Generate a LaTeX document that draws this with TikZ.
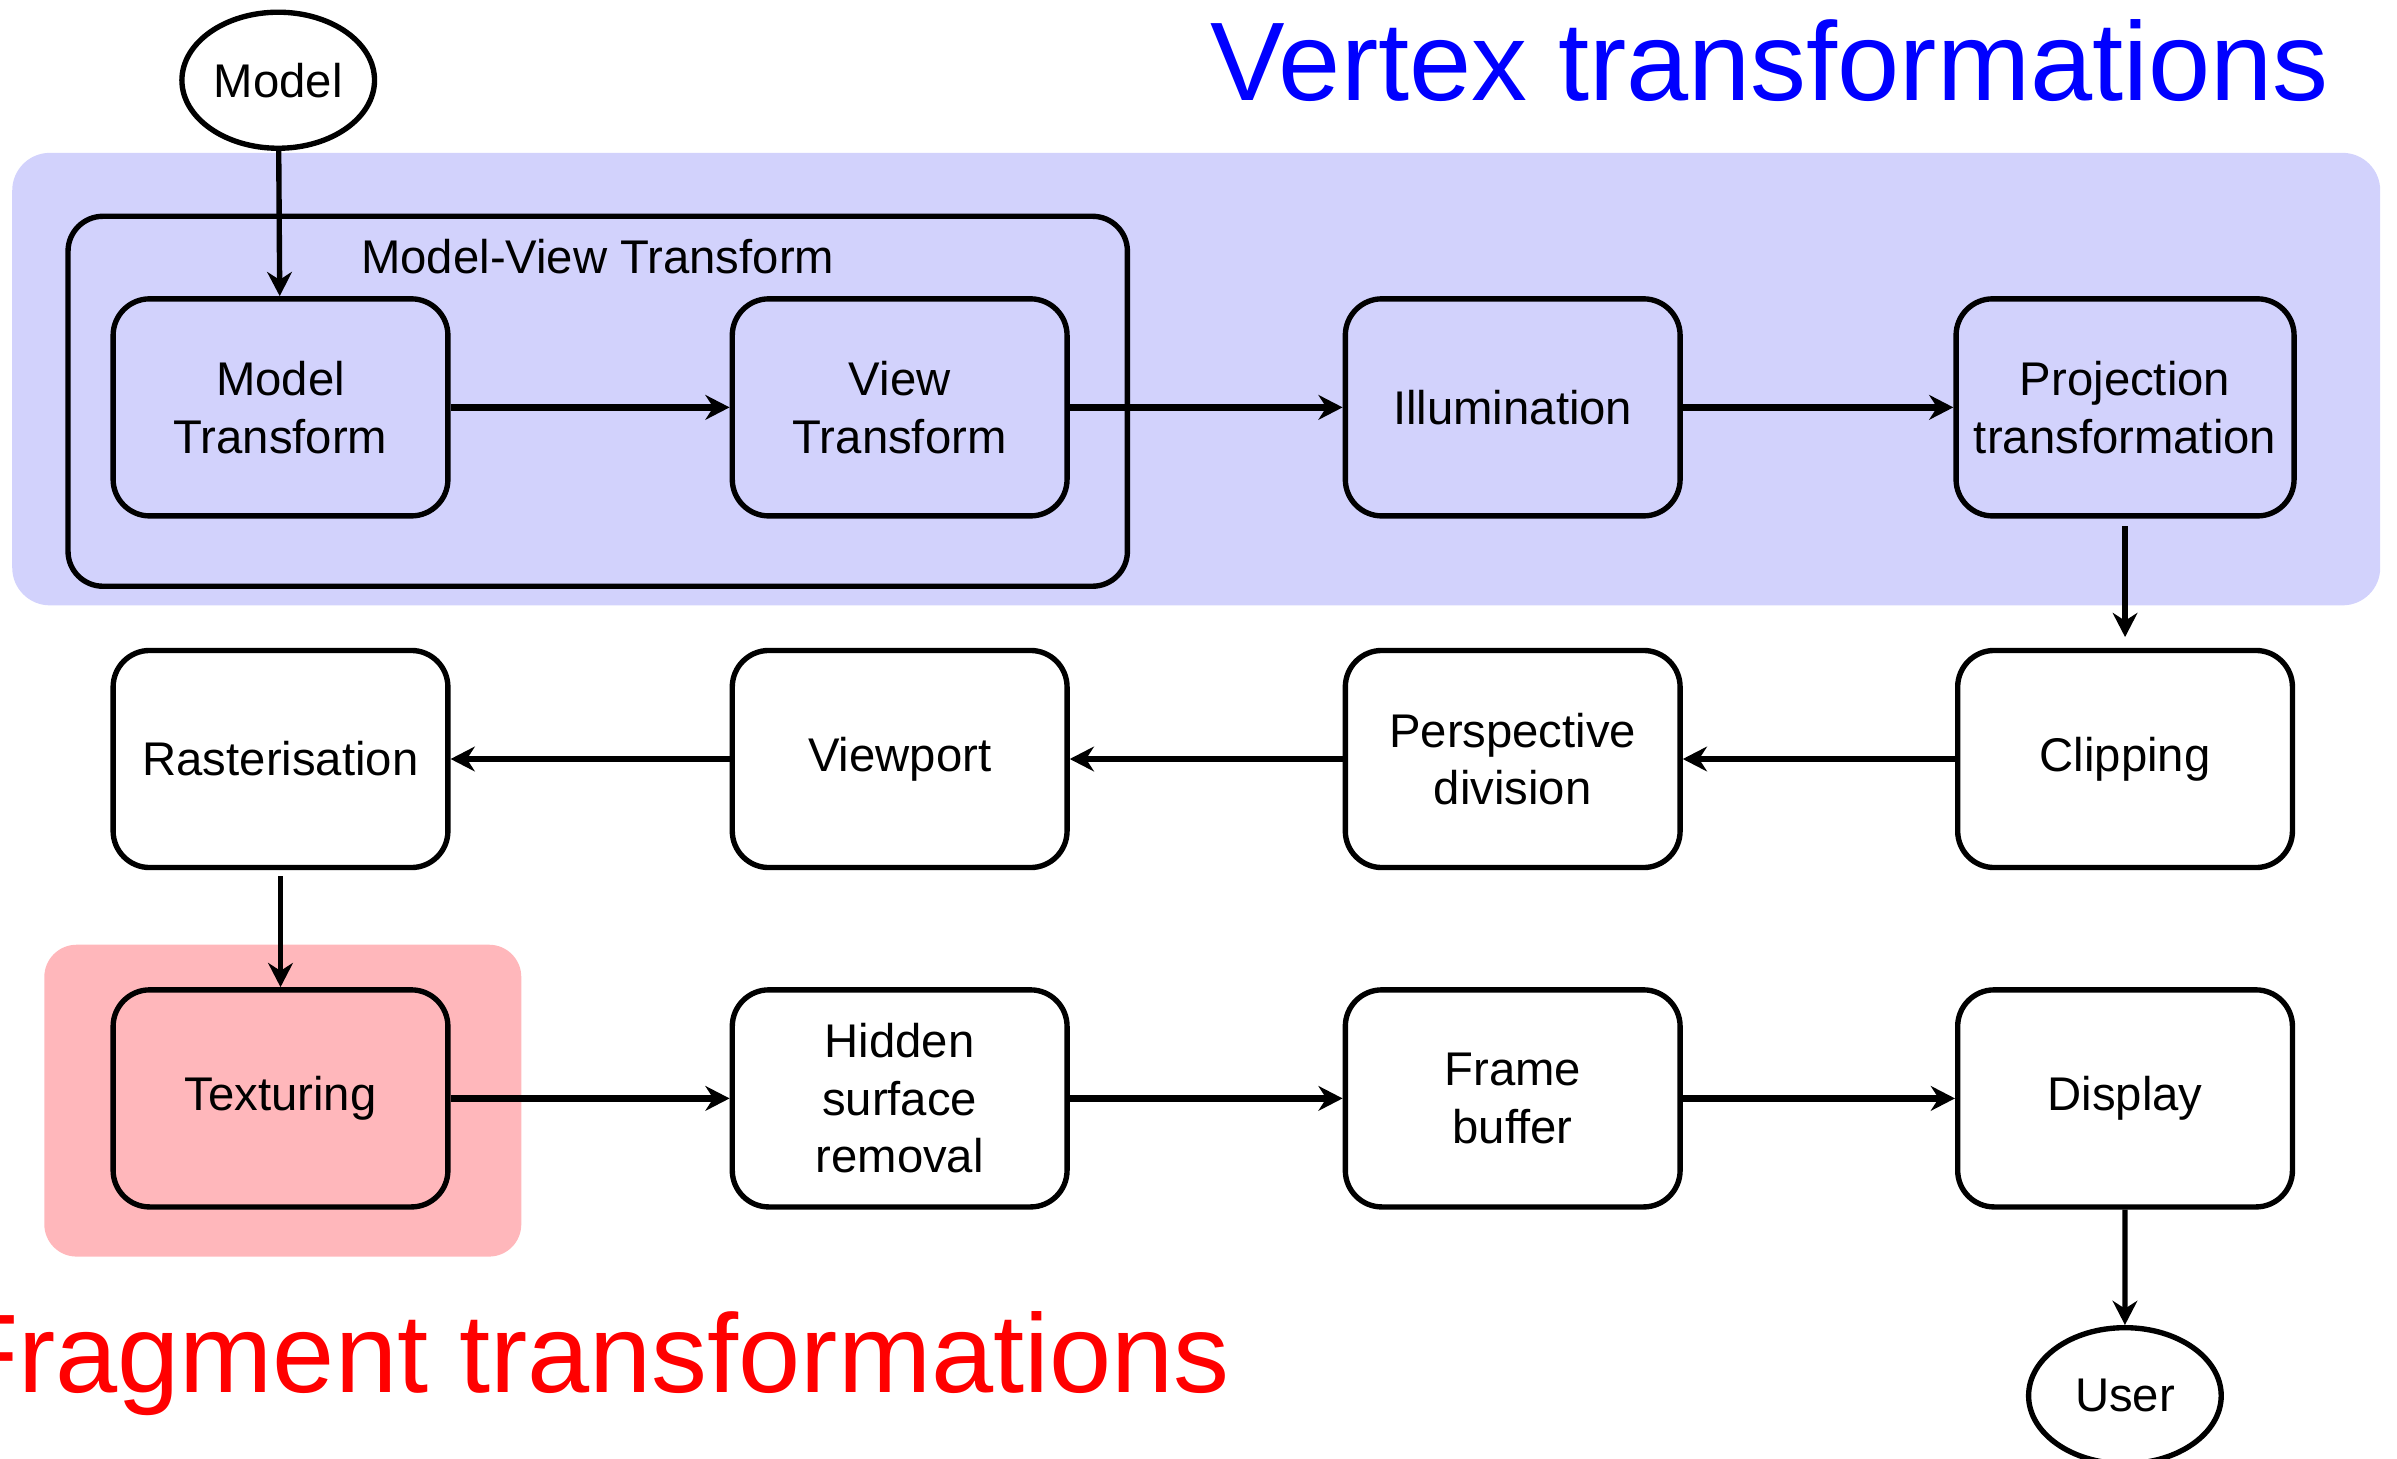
\documentclass[tikz,border=0pt]{standalone}
\usepackage{fontspec}
\setmainfont{Liberation Sans}
\usepackage{tikz}
\usetikzlibrary{shapes.geometric, positioning, arrows.meta}
\definecolor{vtLavender}{RGB}{210,210,252}
\definecolor{ftPink}{RGB}{255,183,187}

\begin{document}
\begin{tikzpicture}[
    stage/.style={draw, line width=1pt, rounded corners=6.8pt, minimum width=2.19cm, minimum height=1.42cm, align=center, font=\fontsize{8.8}{10.7}\selectfont},
    endpoint/.style={draw, ellipse, line width=1pt, minimum width=1.26cm, minimum height=0.89cm, inner sep=0pt, font=\fontsize{8.8}{10.7}\selectfont},
    flow/.style={-{Stealth[length=4.5pt, width=4.6pt]}, line width=1.25pt},
    drop/.style={-{Stealth[length=4.5pt, width=4.6pt]}, line width=1pt},
    heading/.style={font=\fontsize{20.8}{24}\selectfont, inner sep=0pt},
    node distance=0.845cm and 1.79cm
  ]
  \useasboundingbox (0,0) rectangle (15.68,-9.54);
  \clip (0,0) rectangle (15.68,-9.54);

  % shaded stage groups
  \fill[vtLavender, rounded corners=7pt] (0.08,-1.00) rectangle (15.57,-3.96);
  \fill[ftPink, rounded corners=6pt] (0.29,-6.18) rectangle (3.41,-8.22);

  \node[draw, line width=1pt, rounded corners=6.5pt, minimum width=6.93cm, minimum height=2.42cm] (mvbox) at (3.91,-2.625) {};
  \node[font=\fontsize{8.8}{10.7}\selectfont] (mvlabel) at (3.91,-1.68) {Model-View Transform};

  % vertex stages
  \node[stage] (mt) at (1.835,-2.665) {Model\\Transform};
  \node[stage, right=1.825cm of mt] (vt) {View\\Transform};
  \node[stage, right=1.785cm of vt] (illum) {Illumination};
  \node[stage, right=1.77cm of illum] (proj) {Projection\\transformation};

  % back along the second row
  \node[stage, fill=white, below=of proj] (clip) {Clipping};
  \node[stage, fill=white, below=of illum] (persp) {Perspective\\division};
  \node[stage, fill=white, below=of vt] (vport) {Viewport};
  \node[stage, fill=white, below=of mt] (raster) {Rasterisation};

  % fragment stages
  \node[stage, below=0.765cm of raster] (tex) {Texturing};
  \node[stage, fill=white, below=0.765cm of vport] (hsr) {Hidden\\surface\\removal};
  \node[stage, fill=white, below=0.765cm of persp] (fbuf) {Frame\\buffer};
  \node[stage, fill=white, below=0.765cm of clip] (disp) {Display};

  \node[endpoint] (model) at (1.82,-0.525) {Model};
  \node[endpoint] (user) at (13.90,-9.13) {User};

  \node[heading, text=blue, anchor=base] (vtitle) at (11.575,-0.66) {Vertex transformations};
  \node[heading, text=red, anchor=base east] (ftitle) at (8.05,-9.11) {Fragment transformations};

  \draw[drop] (model) -- (mt);
  \draw[flow] (mt) -- (vt);
  \draw[flow] (vt) -- (illum);
  \draw[flow] (illum) -- (proj);
  \draw[drop, shorten <=0.05cm, shorten >=0.07cm] (proj) -- (clip);
  \draw[flow] (clip) -- (persp);
  \draw[flow] (persp) -- (vport);
  \draw[flow] (vport) -- (raster);
  \draw[drop, shorten <=0.04cm] (raster) -- (tex);
  \draw[flow] (tex) -- (hsr);
  \draw[flow] (hsr) -- (fbuf);
  \draw[flow] (fbuf) -- (disp);
  \draw[drop] (disp) -- (user);
\end{tikzpicture}
\end{document}
